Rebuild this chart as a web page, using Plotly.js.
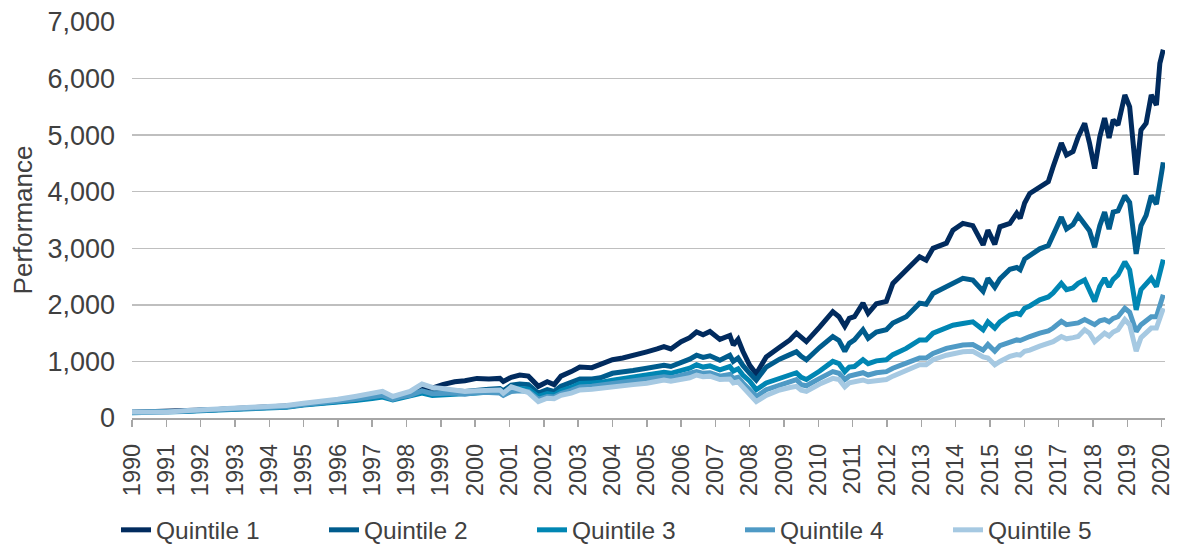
<!DOCTYPE html>
<html>
<head>
<meta charset="utf-8">
<script src="https://cdn.plot.ly/plotly-3.0.1.min.js"></script>
<style>html,body{margin:0;padding:0;background:#fff;}</style>
</head>
<body>
<div id="chart" style="width:1178px;height:545px;"></div>
<script>
// Decimal-year dates (shared by all series)
const dates = [
1990.0,1990.5,1991.0,1991.5,1992.0,1992.5,1993.0,1993.5,1994.0,1994.5,
1995.0,1995.5,1996.0,1996.5,1997.0,1997.3,1997.6,1997.8,1998.1,1998.45,
1998.75,1999.05,1999.4,1999.7,2000.05,2000.4,2000.72,2000.82,2001.05,2001.3,
2001.55,2001.84,2002.1,2002.3,2002.5,2002.8,2003.05,2003.4,2003.65,2004.0,
2004.3,2004.6,2005.0,2005.3,2005.5,2005.7,2006.0,2006.25,2006.45,2006.64,
2006.84,2007.13,2007.42,2007.52,2007.66,2007.8,2008.0,2008.19,2008.48,2008.87,
2009.17,2009.36,2009.5,2009.65,2010.04,2010.42,2010.6,2010.77,2010.9,2011.05,
2011.3,2011.45,2011.69,2011.98,2012.17,2012.56,2012.95,2013.14,2013.34,2013.73,
2013.92,2014.21,2014.5,2014.8,2014.94,2015.14,2015.29,2015.58,2015.78,2015.88,
2016.01,2016.16,2016.45,2016.7,2016.84,2017.08,2017.23,2017.42,2017.57,2017.76,
2017.9,2018.05,2018.2,2018.34,2018.47,2018.59,2018.73,2018.93,2019.07,2019.26,
2019.4,2019.55,2019.7,2019.85,2019.95,2020.05
];

const quintile1 = [
100,110,105,130,140,150,170,180,190,210,
250,270,310,340,380,410,370,400,440,520,
530,590,640,660,700,690,700,645,720,760,
740,560,640,590,740,820,900,890,940,1030,
1060,1100,1170,1220,1260,1220,1350,1420,1520,1470,
1530,1390,1460,1290,1390,1180,930,780,1080,1250,
1380,1500,1430,1350,1610,1880,1790,1620,1760,1790,
2030,1850,2020,2060,2380,2620,2850,2790,3000,3090,
3320,3440,3400,3060,3320,3070,3380,3440,3620,3530,
3800,3970,4090,4180,4440,4860,4650,4710,4970,5210,
4860,4410,4970,5300,4950,5270,5180,5710,5500,4300,
5090,5210,5710,5530,6270,6510
];

const quintile2 = [
100,105,100,120,135,145,160,170,180,200,
240,260,300,320,360,390,340,370,400,470,
440,460,480,470,500,510,520,480,580,600,
590,440,500,470,560,620,690,690,710,790,
810,840,880,900,930,910,980,1040,1110,1070,
1100,1020,1110,1000,1060,930,790,670,900,1040,
1120,1170,1090,1030,1250,1440,1370,1180,1320,1380,
1560,1410,1520,1560,1680,1790,2030,2010,2200,2320,
2400,2470,2440,2240,2470,2310,2460,2630,2660,2620,
2810,2880,2990,3050,3220,3550,3340,3420,3580,3430,
3310,3020,3400,3640,3340,3640,3660,3930,3810,2900,
3400,3580,3930,3780,4190,4520
];

const quintile3 = [
95,100,95,115,130,140,150,160,170,190,
230,250,290,310,345,370,320,350,380,440,
400,410,420,410,440,460,470,430,500,520,
510,380,430,410,480,540,610,620,630,670,
700,720,760,780,810,790,840,880,940,900,
920,850,910,830,870,760,650,500,620,700,
760,800,720,680,830,1000,960,820,900,910,
1030,960,1010,1030,1120,1230,1380,1380,1500,1610,
1640,1670,1700,1560,1700,1590,1700,1820,1850,1830,
1940,1980,2090,2140,2210,2380,2270,2300,2380,2440,
2270,2060,2330,2470,2320,2450,2530,2760,2620,1910,
2270,2380,2470,2320,2560,2800
];

const quintile4 = [
100,105,100,120,135,145,160,170,180,200,
240,260,300,330,370,400,330,370,400,480,
430,440,440,420,450,450,440,400,470,480,
470,330,380,370,430,490,550,560,580,610,
640,650,680,700,730,710,750,780,820,790,
800,740,770,700,720,620,500,380,500,590,
640,680,590,570,700,820,790,680,740,760,
800,760,800,820,880,970,1060,1060,1140,1230,
1260,1290,1300,1200,1300,1180,1280,1350,1380,1370,
1410,1440,1500,1540,1590,1710,1650,1660,1680,1740,
1690,1650,1720,1740,1700,1760,1790,1940,1870,1530,
1650,1710,1790,1790,1970,2180
];

const quintile5 = [
105,110,100,130,145,155,175,185,195,220,
260,290,330,380,440,470,380,420,470,600,
540,520,500,470,480,490,495,440,550,500,
450,290,350,340,400,440,495,510,530,553,
580,590,613,640,670,650,690,710,760,730,
740,680,690,620,640,540,420,290,400,495,
540,560,490,470,600,700,680,550,620,640,
672,640,660,680,740,850,940,940,1030,1110,
1140,1170,1180,1080,1060,940,1000,1090,1120,1110,
1180,1200,1270,1310,1350,1440,1400,1420,1440,1560,
1500,1350,1440,1500,1450,1520,1560,1740,1650,1180,
1420,1500,1590,1590,1770,1940
];

const seriesNames = ['Quintile 1','Quintile 2','Quintile 3','Quintile 4','Quintile 5'];
const seriesValues = [quintile1, quintile2, quintile3, quintile4, quintile5];
const seriesColors = ['#012B5E','#005C8D','#0086B3','#4F9AC5','#A6C9E2'];

const yearTicks = [];
for (let y = 1990; y <= 2020; y++) yearTicks.push(y);
const yearLabels = yearTicks.map(String);

// one legend box per series so each entry sits where the reference puts it
const legendIds = ['legend','legend2','legend3','legend4','legend5'];
const legendLeft = [116, 324, 532, 740, 948];

const traces = seriesNames.map((name, i) => ({
  type: 'scatter',
  mode: 'lines',
  name: name,
  x: dates,
  y: seriesValues[i],
  line: {color: seriesColors[i], width: 5},
  legend: legendIds[i],
  hoverinfo: 'x+y+name'
}));

const layout = {
  width: 1178,
  height: 545,
  margin: {l: 132, r: 13, t: 22, b: 127},
  paper_bgcolor: '#ffffff',
  plot_bgcolor: '#ffffff',
  font: {family: '"Liberation Sans", Arial, sans-serif', color: '#404040', size: 24},
  showlegend: true,
  xaxis: {
    range: [1990, 2020.1],
    tickvals: yearTicks,
    ticktext: yearLabels,
    tickangle: -90,
    ticks: 'outside',
    ticklen: 7,
    tickwidth: 1.5,
    tickcolor: '#A6A6A6',
    ticklabelstandoff: 8,
    showline: true,
    linecolor: '#A6A6A6',
    linewidth: 1.5,
    showgrid: false,
    zeroline: false,
    tickfont: {size: 23.5, color: '#404040'}
  },
  yaxis: {
    range: [0, 7000],
    tickvals: [0,1000,2000,3000,4000,5000,6000,7000],
    tickformat: ',d',
    showgrid: true,
    gridcolor: '#BFBFBF',
    gridwidth: 1.3,
    zeroline: false,
    showline: false,
    ticks: '',
    ticklabelstandoff: 16,
    tickfont: {size: 27, color: '#404040'},
    title: {text: 'Performance', font: {size: 26, color: '#404040'}, standoff: 7}
  }
};

legendIds.forEach((id, i) => {
  layout[id] = {
    orientation: 'h',
    xref: 'container',
    x: legendLeft[i] / 1178,
    xanchor: 'left',
    yref: 'container',
    y: 0.069,
    yanchor: 'top',
    font: {size: 24.5, color: '#404040'},
    bgcolor: 'rgba(0,0,0,0)'
  };
});

Plotly.newPlot('chart', traces, layout, {displayModeBar: false, staticPlot: true});
</script>
</body>
</html>
